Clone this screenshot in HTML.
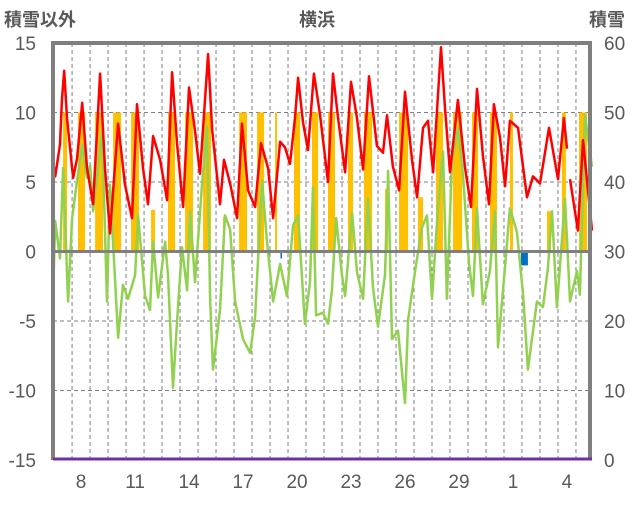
<!DOCTYPE html>
<html><head><meta charset="utf-8"><style>
body{margin:0;background:#fff;}
svg text{font-family:"Liberation Sans","Noto Sans CJK JP",sans-serif;fill:#595959;}
</style></head><body>
<svg id="c" width="636" height="501" xmlns="http://www.w3.org/2000/svg">
<text x="4" y="26" font-size="18" font-weight="bold">積雪以外</text>
<text x="317" y="26" font-size="18" font-weight="bold" text-anchor="middle">横浜</text>
<text x="589" y="26" font-size="18" font-weight="bold">積雪</text>
</svg>
<script>
const leftTicks=[-15,-10,-5,0,5,10,15];
const rightTicks=[0,10,20,30,40,50,60];
const dayLabels=["8","11","14","17","20","23","26","29","1","4"];
const dayLabelDays=[8,11,14,17,20,23,26,29,32,35];
const redT=[6.94,7.06,7.33,7.44,7.56,7.72,8.0,8.06,8.28,8.56,8.83,9.17,9.56,9.83,10.11,10.56,10.94,11.33,11.61,11.94,12.22,12.5,12.89,13.28,13.56,13.83,14.17,14.5,14.83,15.11,15.56,15.78,16.22,16.44,16.78,17.17,17.44,17.78,18.17,18.5,18.89,19.17,19.56,19.83,20.11,20.39,20.56,20.83,21.11,21.44,21.78,22.22,22.5,22.78,23.17,23.5,23.83,24.17,24.5,24.94,25.28,25.5,25.83,26.17,26.5,26.89,27.17,27.5,27.78,28.06,28.5,28.72,29.0,29.44,29.83,30.17,30.5,30.83,31.17,31.44,31.78,32.06,32.33,32.78,33.28,33.61,34.0,34.5,35.0,35.33,35.5,35.58,35.67,36.11,36.39,36.89];
const redV=[6.5,5.4,7.7,11,13,9.6,6,5.3,6.7,10.7,6,3.4,12.8,6,1.3,9.2,4.8,2.4,10.6,6,3.4,8.3,6.6,3.7,12.9,7.8,3.2,11.8,8.7,5.6,14.2,8.8,3.4,6.6,4.9,2.4,9.2,4.4,3.2,7.8,6,2.4,7.9,7.5,6.3,9.6,12.5,9.3,7.3,12.8,9.8,5,12.8,9.6,5.7,12.2,9.6,5.9,12.6,7.6,7.1,9.8,6.1,4.4,11.5,6.6,3.9,8.9,9.4,5.7,14.7,10.3,5.7,10.9,6.1,3.2,11.7,6.9,3.4,10.6,8.2,4.7,9.4,8.9,3.9,5.4,4.9,8.9,5.2,9.6,7.4,null,5.2,1.5,8,1.5];
const greenT=[6.94,7.06,7.33,7.5,7.78,8.0,8.28,8.56,8.83,9.0,9.17,9.67,9.94,10.11,10.56,10.83,11.11,11.5,11.67,12.06,12.33,12.5,12.78,13.17,13.33,13.61,13.83,14.11,14.39,14.56,14.83,15.22,15.5,15.67,15.83,16.22,16.5,16.78,17.06,17.5,17.89,18.17,18.56,18.83,19.17,19.56,19.94,20.28,20.56,20.94,21.22,21.39,21.56,21.94,22.22,22.44,22.67,23.0,23.17,23.56,23.83,24.17,24.44,24.72,25.0,25.39,25.56,25.78,26.11,26.5,26.67,27.06,27.44,27.72,28.0,28.33,28.61,28.83,29.11,29.44,29.72,30.06,30.28,30.5,30.83,31.22,31.5,31.67,31.94,32.33,32.72,33.06,33.33,33.83,34.17,34.44,34.67,34.94,35.39,35.67,36.06,36.22,36.5,36.89];
const greenV=[-3.3,2.2,-0.5,6,-3.6,2.4,5.1,7.7,5.3,6.2,2.9,8.7,-3.6,4.8,-6.2,-2.4,-3.4,-1.7,2.6,-3.2,-4.2,0.7,-3.3,0.7,-1.7,-9.8,-5.1,0.3,-2.8,2.9,-2.2,4.8,9,-3.4,-8.5,-4.2,2.6,1.6,-3.6,-6.3,-7.3,-4.7,5.1,0.7,-3.6,-0.9,-3.2,1.9,2.6,-5.2,-2.2,4.6,-4.6,-4.4,-5.2,-2.8,2.4,-1.7,-3.2,2.8,-1.5,-3.4,3.8,-2.6,-5.4,-1.7,5.8,-6.3,-5.7,-10.9,-4.9,-1.4,1.7,2.6,-3.4,3.1,7.2,-3.4,6.5,8.9,5.6,-0.9,-3.2,3.1,-3.8,-1.4,2.9,-6.9,-2.9,3.1,1.4,-3.1,-8.5,-3.6,-4.0,-1.2,2.9,-4.0,3.8,-3.6,-1.4,-3.1,9.8,6.1];
const orangeStart=[7.5,8.33,9.28,10.28,11.28,12.39,13.33,14.28,15.28,16.39,17.28,18.28,19.28,20.33,21.33,22.22,23.33,24.22,25.39,26.17,27.22,28.22,29.17,30.22,31.22,32.33,34.39,35.22,36.17];
const orangeEnd=[7.72,8.72,9.72,10.72,11.72,12.61,13.72,14.72,15.72,16.44,17.72,18.67,19.39,20.67,21.67,22.61,23.61,24.67,25.56,26.67,27.5,28.61,29.67,30.56,31.61,32.5,34.61,35.44,36.61];
const orangeV=[10,10,10,10,10,3,10,10,10,2.5,10,10,10,10,10,10,10,10,4.5,10,3.9,10,10,10,10,10,2.9,10,10];
const blueStart=[19.58,32.94];
const blueEnd=[19.66,33.33];
const blueV=[-0.5,-1];
const snowDepth=[0,0];

const NS="http://www.w3.org/2000/svg";
const svg=document.getElementById('c');
const X0=53,X1=590,Y0=43,Y1=460;
const T0=6.94,T1=36.78;
const xs=t=>X0+(t-T0)/(T1-T0)*(X1-X0);
const ys=v=>Y1-(v+15)/30*(Y1-Y0);
const yr=v=>Y1-v/60*(Y1-Y0);
function mk(tag,attrs,parent){const e=document.createElementNS(NS,tag);for(const k in attrs)e.setAttribute(k,attrs[k]);(parent||svg).appendChild(e);return e;}

const grid=mk('g',{});


for(let d=8;d<=36;d++){const x=xs(d);mk('line',{x1:x,x2:x,y1:Y0,y2:Y1,stroke:'#7f7f7f','stroke-width':1,'stroke-dasharray':'4,3'},grid);}
leftTicks.forEach(v=>{if(v!==0&&v!==-15&&v!==15)mk('line',{x1:X0,x2:X1,y1:ys(v),y2:ys(v),stroke:'#7f7f7f','stroke-width':1,'stroke-dasharray':'4,3'},grid);});

orangeV.forEach((v,i)=>{const r=mk('rect',{x:xs(orangeStart[i]),y:ys(v),width:Math.max(1.5,xs(orangeEnd[i])-xs(orangeStart[i])),height:ys(0)-ys(v),fill:'#ffc000'});

});
blueV.forEach((v,i)=>{const r=mk('rect',{x:xs(blueStart[i]),y:ys(0),width:Math.max(1.5,xs(blueEnd[i])-xs(blueStart[i])),height:ys(v)-ys(0),fill:'#0070c0'});

});

function pathOf(T,V){let d='',pen=false;T.forEach((t,i)=>{if(V[i]===null){pen=false;return;}d+=(pen?'L':'M')+xs(t).toFixed(1)+','+ys(V[i]).toFixed(1);pen=true;});return d;}
const g=mk('path',{d:pathOf(greenT,greenV),fill:'none',stroke:'#92d050','stroke-width':2.5,'stroke-linejoin':'round'});


const r=mk('path',{d:pathOf(redT,redV),fill:'none',stroke:'#ff0000','stroke-width':2.5,'stroke-linejoin':'round'});



const z=mk('line',{x1:X0,x2:X1,y1:ys(0),y2:ys(0),stroke:'#7f7f7f','stroke-width':3});


const f=mk('path',{d:`M${X0},${Y1}V${Y0}H${X1}V${Y1}`,fill:'none',stroke:'#7f7f7f','stroke-width':4});


const s=mk('line',{x1:X0,x2:X1+2,y1:yr(snowDepth[0])-1,y2:yr(snowDepth[1])-1,stroke:'#7030a0','stroke-width':3});



leftTicks.forEach(v=>{const t=mk('text',{x:36,y:ys(v)+7,'font-size':19,'text-anchor':'end'});t.textContent=v;

});
rightTicks.forEach(v=>{const t=mk('text',{x:604,y:yr(v)+7,'font-size':19});t.textContent=v;

});
dayLabels.forEach((l,i)=>{const t=mk('text',{x:xs(dayLabelDays[i]+0.5),y:488,'font-size':19,'text-anchor':'middle'});t.textContent=l;

});
</script>
</body></html>
